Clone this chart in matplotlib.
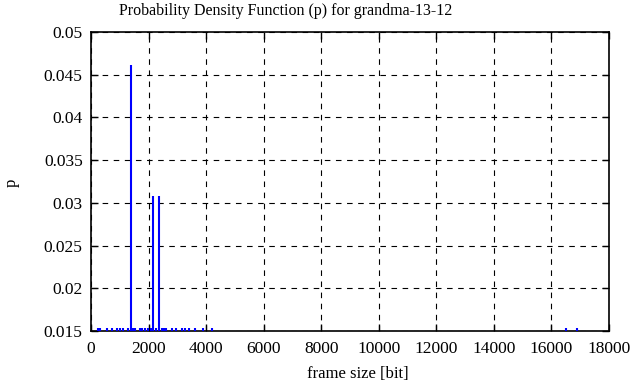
import matplotlib
matplotlib.use("Agg")
import matplotlib.pyplot as plt

# frame sizes [bit] and their probabilities (impulses)
frame_sizes = [243, 313, 556, 730, 900, 1000, 1100, 1285, 1390, 1460, 1530, 1700,
               1770, 1870, 1980, 2080, 2165, 2250, 2365, 2450, 2530, 2600, 2815,
               2950, 3160, 3270, 3400, 3615, 3890, 4200, 16500, 16890]
probs = [0.01538] * len(frame_sizes)
probs[frame_sizes.index(1390)] = 0.04615
probs[frame_sizes.index(2165)] = 0.03077
probs[frame_sizes.index(2365)] = 0.03077

x_ticks = list(range(0, 18001, 2000))
y_ticks = [0.015, 0.02, 0.025, 0.03, 0.035, 0.04, 0.045, 0.05]
y_tick_labels = ["0.015", "0.02", "0.025", "0.03", "0.035", "0.04", "0.045", "0.05"]

plt.rcParams['font.family'] = ['Liberation Serif', 'DejaVu Serif']
plt.rcParams['font.size'] = 12

fig = plt.figure(figsize=(6.36, 3.87), dpi=100)
ax = fig.add_axes([91/636, 1-331/387, (609-91)/636, (331-32)/387])

ax.vlines(frame_sizes, 0.015, probs, colors='#0000ff', linewidth=1.5, zorder=3)

ax.set_xlim(0, 18000)
ax.set_ylim(0.015, 0.05)
ax.set_xticks(x_ticks)
ax.set_xticklabels([str(t) for t in x_ticks])
ax.set_yticks(y_ticks)
ax.set_yticklabels(y_tick_labels)
ax.tick_params(axis='both', direction='in', top=True, right=True, length=5, width=1,
               labelsize=12.5)
ax.tick_params(axis='x', pad=7)
ax.tick_params(axis='y', pad=6)
ax.grid(True, color='black', linestyle=(0, (5, 5)), linewidth=0.8)
for s in ax.spines.values():
    s.set_linewidth(1.2)

fig.text(286/636, 1-11/387, "Probability Density Function (p) for grandma-13-12",
         ha='center', va='center', fontsize=11.5)
fig.text(358/636, 1-374/387, "frame size [bit]", ha='center', va='center', fontsize=12)
fig.text(12/636, 1-183/387, "p", ha='center', va='center', rotation=90, fontsize=12)

fig.savefig("out.png", dpi=100)
